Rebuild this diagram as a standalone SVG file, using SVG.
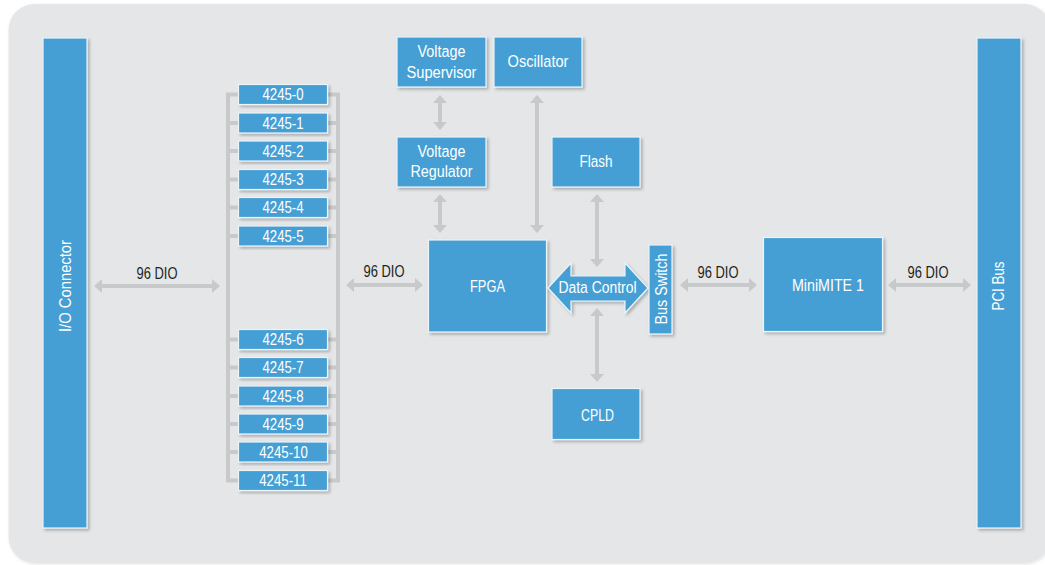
<svg xmlns="http://www.w3.org/2000/svg" width="1045" height="565" viewBox="0 0 1045 565">
  <defs>
    <filter id="sh" x="-20%" y="-20%" width="140%" height="140%">
      <feDropShadow dx="2" dy="2" stdDeviation="1.5" flood-color="#000" flood-opacity="0.25"/>
    </filter>
    <filter id="bgsh" x="-5%" y="-5%" width="110%" height="110%">
      <feDropShadow dx="1" dy="1" stdDeviation="1.5" flood-color="#000" flood-opacity="0.12"/>
    </filter>
    <marker id="ah" viewBox="0 0 8 14" refX="2" refY="7" markerWidth="8" markerHeight="14" markerUnits="userSpaceOnUse" orient="auto-start-reverse">
      <path d="M0,0 L8,7 L0,14 Z" fill="#c8c9cb"/>
    </marker>
  </defs>
  <style>
    .box { fill: #449fd4; stroke: #eaf4fb; stroke-width: 1.2; filter: url(#sh); }
    .t { font-family: "Liberation Sans", Arial, sans-serif; fill: #ffffff; text-anchor: middle; }
    .s { font-size: 16px; }
    .m { font-size: 16.8px; }
    .lbl { font-family: "Liberation Sans", Arial, sans-serif; fill: #231f20; font-size: 16.8px; text-anchor: middle; }
    .arr { stroke: #c8c9cb; stroke-width: 4; fill: none; marker-start: url(#ah); marker-end: url(#ah); }
    .bar { stroke: #c8c9cb; stroke-width: 4; fill: none; }
  </style>
  <rect x="0" y="0" width="1045" height="565" fill="#ffffff"/>
  <rect x="8.5" y="4" width="1042" height="559" rx="26" fill="#e5e6e8" filter="url(#bgsh)"/>

  <g id="connectors">
    <rect class="bar" x="228" y="94.5" width="110" height="386"/>
    <path class="bar" d="M228,123 H338 M228,151 H338 M228,179.5 H338 M228,207.5 H338 M228,236 H338 M228,339.5 H338 M228,367.5 H338 M228,396 H338 M228,424 H338 M228,452 H338"/>
    <line class="arr" x1="100" y1="286" x2="214" y2="286"/>
    <line class="arr" x1="352" y1="285" x2="417" y2="285"/>
    <line class="arr" x1="686" y1="285" x2="751" y2="285"/>
    <line class="arr" x1="894" y1="285" x2="965" y2="285"/>
    <line class="arr" x1="440" y1="101" x2="440" y2="124"/>
    <line class="arr" x1="440" y1="200" x2="440" y2="227"/>
    <line class="arr" x1="537" y1="101" x2="537" y2="227"/>
    <line class="arr" x1="597" y1="200" x2="597" y2="261"/>
    <line class="arr" x1="597" y1="314" x2="597" y2="376"/>
    <text class="lbl" x="157" y="279.3" textLength="41" lengthAdjust="spacingAndGlyphs">96 DIO</text>
    <text class="lbl" x="384" y="277.3" textLength="41" lengthAdjust="spacingAndGlyphs">96 DIO</text>
    <text class="lbl" x="718" y="278" textLength="41" lengthAdjust="spacingAndGlyphs">96 DIO</text>
    <text class="lbl" x="928" y="278" textLength="41" lengthAdjust="spacingAndGlyphs">96 DIO</text>
  </g>

  <g id="io-connector">
    <rect class="box" x="43" y="38" width="44" height="490"/>
    <text class="t m" transform="translate(71,286) rotate(-90)" textLength="92" lengthAdjust="spacingAndGlyphs">I/O Connector</text>
  </g>
  <g id="pci-bus">
    <rect class="box" x="977" y="38" width="44" height="490"/>
    <text class="t m" transform="translate(1004.3,286) rotate(-90)" textLength="49" lengthAdjust="spacingAndGlyphs">PCI Bus</text>
  </g>

  <g id="m4245-0"><rect class="box" x="238.5" y="84.5" width="89" height="20"/><text class="t s" x="283" y="100.3" textLength="41" lengthAdjust="spacingAndGlyphs">4245-0</text></g>
  <g id="m4245-1"><rect class="box" x="238.5" y="113" width="89" height="20"/><text class="t s" x="283" y="128.8" textLength="41" lengthAdjust="spacingAndGlyphs">4245-1</text></g>
  <g id="m4245-2"><rect class="box" x="238.5" y="141" width="89" height="20"/><text class="t s" x="283" y="156.8" textLength="41" lengthAdjust="spacingAndGlyphs">4245-2</text></g>
  <g id="m4245-3"><rect class="box" x="238.5" y="169.5" width="89" height="20"/><text class="t s" x="283" y="185.3" textLength="41" lengthAdjust="spacingAndGlyphs">4245-3</text></g>
  <g id="m4245-4"><rect class="box" x="238.5" y="197.5" width="89" height="20"/><text class="t s" x="283" y="213.3" textLength="41" lengthAdjust="spacingAndGlyphs">4245-4</text></g>
  <g id="m4245-5"><rect class="box" x="238.5" y="226" width="89" height="20"/><text class="t s" x="283" y="241.8" textLength="41" lengthAdjust="spacingAndGlyphs">4245-5</text></g>
  <g id="m4245-6"><rect class="box" x="238.5" y="329.5" width="89" height="20"/><text class="t s" x="283" y="345.3" textLength="41" lengthAdjust="spacingAndGlyphs">4245-6</text></g>
  <g id="m4245-7"><rect class="box" x="238.5" y="357.5" width="89" height="20"/><text class="t s" x="283" y="373.3" textLength="41" lengthAdjust="spacingAndGlyphs">4245-7</text></g>
  <g id="m4245-8"><rect class="box" x="238.5" y="386" width="89" height="20"/><text class="t s" x="283" y="401.8" textLength="41" lengthAdjust="spacingAndGlyphs">4245-8</text></g>
  <g id="m4245-9"><rect class="box" x="238.5" y="414" width="89" height="20"/><text class="t s" x="283" y="429.8" textLength="41" lengthAdjust="spacingAndGlyphs">4245-9</text></g>
  <g id="m4245-10"><rect class="box" x="238.5" y="442" width="89" height="20"/><text class="t s" x="283.5" y="457.8" textLength="48.5" lengthAdjust="spacingAndGlyphs">4245-10</text></g>
  <g id="m4245-11"><rect class="box" x="238.5" y="470.5" width="89" height="20"/><text class="t s" x="283" y="486.3" textLength="47.5" lengthAdjust="spacingAndGlyphs">4245-11</text></g>

  <g id="voltage-supervisor">
    <rect class="box" x="397" y="37" width="89" height="50"/>
    <text class="t m" x="441.5" y="57.3" textLength="48" lengthAdjust="spacingAndGlyphs">Voltage</text>
    <text class="t m" x="441.5" y="78.3" textLength="70" lengthAdjust="spacingAndGlyphs">Supervisor</text>
  </g>
  <g id="oscillator">
    <rect class="box" x="494" y="37" width="88" height="50"/>
    <text class="t m" x="538" y="67.3" textLength="61" lengthAdjust="spacingAndGlyphs">Oscillator</text>
  </g>
  <g id="voltage-regulator">
    <rect class="box" x="397" y="137" width="89" height="50"/>
    <text class="t m" x="441.5" y="157.3" textLength="48" lengthAdjust="spacingAndGlyphs">Voltage</text>
    <text class="t m" x="441.5" y="177.3" textLength="62" lengthAdjust="spacingAndGlyphs">Regulator</text>
  </g>
  <g id="flash">
    <rect class="box" x="552" y="137" width="88" height="50"/>
    <text class="t m" x="596" y="167.3" textLength="33" lengthAdjust="spacingAndGlyphs">Flash</text>
  </g>
  <g id="fpga">
    <rect class="box" x="428.5" y="240" width="118" height="92"/>
    <text class="t m" x="487.5" y="292.3" textLength="35" lengthAdjust="spacingAndGlyphs">FPGA</text>
  </g>
  <g id="data-control">
    <path class="box" d="M548,288 L571,263 L571,276 L625,276 L625,263 L648,288 L625,313 L625,301 L571,301 L571,313 Z"/>
    <text class="t m" x="597.5" y="293.3" textLength="78" lengthAdjust="spacingAndGlyphs">Data Control</text>
  </g>
  <g id="bus-switch">
    <rect class="box" x="649" y="245" width="23" height="89"/>
    <text class="t m" transform="translate(666.5,289) rotate(-90)" textLength="71" lengthAdjust="spacingAndGlyphs">Bus Switch</text>
  </g>
  <g id="cpld">
    <rect class="box" x="552" y="388.5" width="88" height="51"/>
    <text class="t m" x="597.5" y="420.7" textLength="33" lengthAdjust="spacingAndGlyphs">CPLD</text>
  </g>
  <g id="minimite">
    <rect class="box" x="763.5" y="237.5" width="119" height="94"/>
    <text class="t m" x="828" y="291" textLength="72" lengthAdjust="spacingAndGlyphs">MiniMITE 1</text>
  </g>
</svg>
